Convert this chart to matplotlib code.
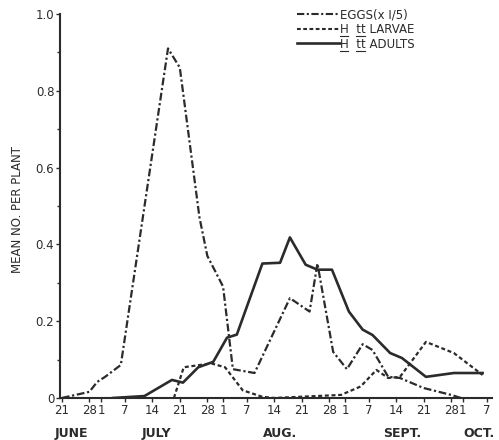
import matplotlib
matplotlib.use("Agg")
import matplotlib.pyplot as plt
import matplotlib.transforms as mtransforms
from matplotlib.lines import Line2D

# Days counted from 21 June
tick_days = [0, 7, 10, 16, 23, 30, 37, 41, 47, 54, 61, 68, 72, 78, 85, 92, 99, 102, 108]
tick_labels = ["21", "28", "1", "7", "14", "21", "28", "1", "7", "14", "21", "28",
               "1", "7", "14", "21", "28", "1", "7"]
month_days = [2.5, 24, 55.5, 86.5, 106]
month_labels = ["JUNE", "JULY", "AUG.", "SEPT.", "OCT."]

# Eggs (x 1/5)
egg_days = [0, 7, 9, 11, 15, 27, 30, 35, 37, 41, 43.5, 49, 58, 63, 65, 69, 72.5,
            76.5, 79, 83, 86, 92, 99, 101.5]
egg_vals = [0.0, 0.016, 0.042, 0.055, 0.086, 0.91, 0.86, 0.47, 0.37, 0.29, 0.075,
            0.065, 0.26, 0.225, 0.35, 0.12, 0.075, 0.14, 0.125, 0.055, 0.052,
            0.026, 0.008, 0.0]

# H. tt larvae
larva_days = [28.5, 31, 38, 41.5, 46, 51, 54, 71, 76, 80, 83, 86, 92.6, 99.7, 107]
larva_vals = [0.0, 0.08, 0.09, 0.08, 0.02, 0.003, 0.0, 0.008, 0.03, 0.073, 0.052,
              0.055, 0.146, 0.117, 0.06]

# H. tt adults
adult_days = [13, 21, 28, 30.8, 34.7, 38.5, 42, 44.5, 51, 55.5, 58, 62, 65, 68.7,
              73, 76.5, 79, 83.5, 86.5, 92.6, 99.7, 107]
adult_vals = [0.0, 0.005, 0.047, 0.04, 0.08, 0.094, 0.157, 0.165, 0.35, 0.352,
              0.418, 0.347, 0.334, 0.334, 0.225, 0.178, 0.164, 0.117, 0.104,
              0.055, 0.065, 0.065]

ink = "#2b2b2b"
egg_style = (0, (3.5, 1.2, 1.0, 1.2))
larva_style = (0, (1.8, 1.2))

fig = plt.figure(figsize=(4.99, 4.40), dpi=100)
ax = fig.add_axes([0.120, 0.0955, 0.866, 0.873])

ax.plot(egg_days, egg_vals, color=ink, lw=1.6, ls=egg_style)
ax.plot(larva_days, larva_vals, color=ink, lw=1.6, ls=larva_style)
ax.plot(adult_days, adult_vals, color=ink, lw=1.9, ls="-")

ax.set_xlim(-0.5, 109.4)
ax.set_ylim(0, 1.0)

ax.spines["top"].set_visible(False)
ax.spines["right"].set_visible(False)
for s in ["left", "bottom"]:
    ax.spines[s].set_linewidth(1.5)
    ax.spines[s].set_color(ink)

ax.set_xticks(tick_days)
ax.set_xticklabels(tick_labels)
ax.set_yticks([0, 0.2, 0.4, 0.6, 0.8, 1.0])
ax.set_yticklabels(["0", "0.2", "0.4", "0.6", "0.8", "1.0"])
ax.set_yticks([0.1, 0.3, 0.5, 0.7, 0.9], minor=True)
ax.tick_params(axis="both", which="major", direction="out", length=3, width=1,
               color=ink, labelcolor=ink, labelsize=8.5, pad=1)
ax.tick_params(axis="y", which="minor", direction="out", length=2.5, width=1, color=ink)

ax.set_ylabel("MEAN NO. PER PLANT", fontsize=8.5, color=ink)
ax.yaxis.set_label_coords(-0.083, 0.49)

trans = mtransforms.blended_transform_factory(ax.transData, ax.transAxes)
for d, m in zip(month_days, month_labels):
    ax.text(d, -0.092, m, transform=trans, ha="center", va="center",
            fontsize=9, color=ink, fontweight="bold")

handles = [
    Line2D([], [], color=ink, lw=1.5, ls=egg_style),
    Line2D([], [], color=ink, lw=1.5, ls=larva_style),
    Line2D([], [], color=ink, lw=1.9, ls="-"),
]
labels = ["EGGS(x I/5)", "H  tt LARVAE", "H  tt ADULTS"]
leg = fig.legend(handles, labels, loc="upper left",
                 bbox_to_anchor=(297 / 499, 1 - 8 / 440),
                 frameon=False, fontsize=8.5, handlelength=3.6, handletextpad=0.0,
                 labelspacing=0.15, borderpad=0, borderaxespad=0)
for t in leg.get_texts():
    t.set_color(ink)

# underline the abbreviated species name (H. tt) in the legend
fig.canvas.draw()
renderer = fig.canvas.get_renderer()
for t in leg.get_texts()[1:]:
    bb = t.get_window_extent(renderer)
    for start, stop in [("", "H"), ("H  ", "H  tt")]:
        probe = fig.text(0, 0, start, fontsize=8.5)
        w0 = probe.get_window_extent(renderer).width if start else 0
        probe.set_text(stop)
        w1 = probe.get_window_extent(renderer).width
        probe.remove()
        y = bb.y0 - 0.5
        fig.add_artist(Line2D([(bb.x0 + w0) / fig.bbox.width, (bb.x0 + w1) / fig.bbox.width],
                              [y / fig.bbox.height] * 2, color=ink, lw=0.8))

fig.savefig("out.png", dpi=100)
